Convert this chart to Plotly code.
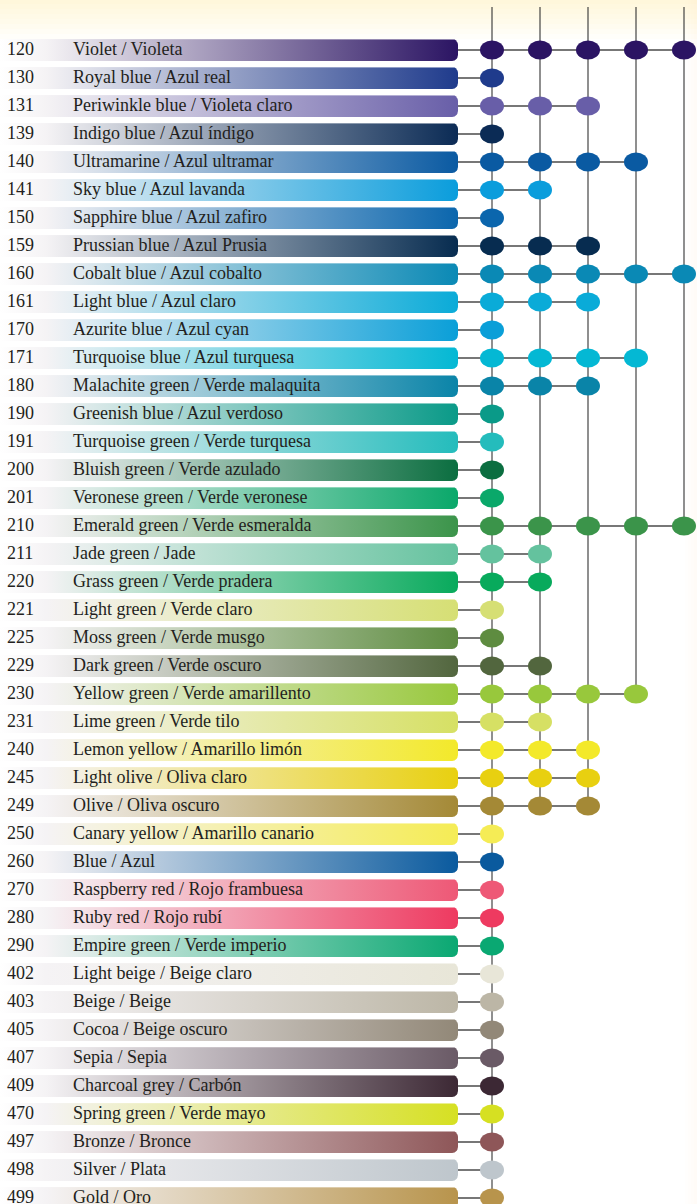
import numpy as np
import plotly.graph_objects as go

# ---------------- data ----------------
codes = ["120", "130", "131", "139", "140", "141", "150", "159", "160", "161",
         "170", "171", "180", "190", "191", "200", "201", "210", "211", "220",
         "221", "225", "229", "230", "231", "240", "245", "249", "250", "260",
         "270", "280", "290", "402", "403", "405", "407", "409", "470", "497",
         "498", "499"]

labels = ["Violet / Violeta", "Royal blue / Azul real", "Periwinkle blue / Violeta claro",
          "Indigo blue / Azul índigo", "Ultramarine / Azul ultramar", "Sky blue / Azul lavanda",
          "Sapphire blue / Azul zafiro", "Prussian blue / Azul Prusia", "Cobalt blue / Azul cobalto",
          "Light blue / Azul claro", "Azurite blue / Azul cyan", "Turquoise blue / Azul turquesa",
          "Malachite green / Verde malaquita", "Greenish blue / Azul verdoso",
          "Turquoise green / Verde turquesa", "Bluish green / Verde azulado",
          "Veronese green / Verde veronese", "Emerald green / Verde esmeralda",
          "Jade green / Jade", "Grass green / Verde pradera", "Light green / Verde claro",
          "Moss green / Verde musgo", "Dark green / Verde oscuro", "Yellow green / Verde amarillento",
          "Lime green / Verde tilo", "Lemon yellow / Amarillo limón", "Light olive / Oliva claro",
          "Olive / Oliva oscuro", "Canary yellow / Amarillo canario", "Blue / Azul",
          "Raspberry red / Rojo frambuesa", "Ruby red / Rojo rubí", "Empire green / Verde imperio",
          "Light beige / Beige claro", "Beige / Beige", "Cocoa / Beige oscuro", "Sepia / Sepia",
          "Charcoal grey / Carbón", "Spring green / Verde mayo", "Bronze / Bronce",
          "Silver / Plata", "Gold / Oro"]

swatch_colors = ["#2b1463", "#1f3b8c", "#685ea8", "#0b2b55", "#0a5aa2", "#0a9ddc",
                 "#0b66ad", "#072c50", "#0a89b5", "#0aabd8", "#0a9fd8", "#04b8d4",
                 "#0a84a8", "#0a9a88", "#24bcbc", "#0b6e40", "#0aa86a", "#3b944a",
                 "#64c29e", "#08aa5c", "#d6df74", "#5e8c40", "#52663e", "#98c83c",
                 "#d6e064", "#f3e92a", "#e8d010", "#a48936", "#f5ec55", "#0a5a9e",
                 "#ee5876", "#ee3a60", "#0aa872", "#e8e6d8", "#bcb6a6", "#928878",
                 "#6a5a66", "#3c2834", "#d6e022", "#8e5658", "#bec6cc", "#b8944c"]

# number of formats (dots) available for each colour
format_counts = [5, 1, 3, 1, 4, 2, 1, 3, 5, 3, 1, 4, 3, 1, 1, 1, 1, 5, 2, 2, 1, 1, 2, 4,
                 2, 3, 3, 3, 1, 1, 1, 1, 1, 1, 1, 1, 1, 1, 1, 1, 1, 1]

# ---------------- layout constants (pixels) ----------------
W, H = 697, 1204
ROW0 = 50.0          # pixel y of first row centre
ROWH = 28.0          # pixel spacing of rows
BAR_RIGHT = 458.0
BAR_HALF = 11.0
BAR_R = 6.0
DOT_X0 = 492.0
DOT_STEP = 48.0
DOT_RX = 12.0
DOT_RY = 9.5
LINE_TOP = 7.0
TEXT_FONT = "Liberation Serif"
TEXT_SIZE = 18
TEXT_COLOR = "#231f20"

n = len(codes)
rows = np.arange(n)
px = 1.0 / ROWH  # one pixel in row units

fig = go.Figure()

# background fade at the top
for k in range(8):
    h = 4 + 5 * k
    fig.add_shape(type="rect", xref="paper", yref="paper", x0=0, x1=1,
                  y0=1 - h / H, y1=1, fillcolor="rgba(250,232,165,0.05)",
                  line_width=0, layer="below")
for k in range(4):
    w = 3 + 3 * k
    fig.add_shape(type="rect", xref="paper", yref="paper", x0=1 - w / W, x1=1,
                  y0=0, y1=1, fillcolor="rgba(248,235,190,0.03)",
                  line_width=0, layer="below")

# gradient bars with rounded right end
t = np.linspace(0, np.pi / 2, 8)
hh = BAR_HALF * px
ry = BAR_R * px
for i, col in zip(rows, swatch_colors):
    cx = BAR_RIGHT - BAR_R
    xs = [0.0, cx]
    ys = [i - hh, i - hh]
    xs += list(cx + BAR_R * np.sin(t))
    ys += list((i - hh + ry) - ry * np.cos(t))
    xs += list(cx + BAR_R * np.cos(t))
    ys += list((i + hh - ry) + ry * np.sin(t))
    xs += [0.0, 0.0]
    ys += [i + hh, i - hh]
    fig.add_trace(go.Scatter(
        x=xs, y=ys, mode="lines", fill="toself", line=dict(width=0),
        fillgradient=dict(type="horizontal",
                          colorscale=[[0, "#ffffff"], [0.1, "#f5f3f5"], [1, col]]),
        hoverinfo="skip", showlegend=False))

# horizontal connectors
cx_, cy_ = [], []
for i, c in zip(rows, format_counts):
    cx_ += [BAR_RIGHT, DOT_X0 + DOT_STEP * (c - 1), None]
    cy_ += [i, i, None]
fig.add_trace(go.Scatter(x=cx_, y=cy_, mode="lines",
                         line=dict(color="#4a4a4a", width=1.5),
                         hoverinfo="skip", showlegend=False))

# vertical lines
vx, vy = [], []
ytop = (LINE_TOP - ROW0) / ROWH
for k in range(max(format_counts)):
    last = max(i for i, c in zip(rows, format_counts) if c > k)
    x = DOT_X0 + DOT_STEP * k
    vx += [x, x, None]
    vy += [ytop, last, None]
fig.add_trace(go.Scatter(x=vx, y=vy, mode="lines",
                         line=dict(color="#333333", width=1.1),
                         hoverinfo="skip", showlegend=False))

# dots
for i, c, col in zip(rows, format_counts, swatch_colors):
    for k in range(c):
        x = DOT_X0 + DOT_STEP * k
        fig.add_shape(type="circle", xref="x", yref="y",
                      x0=x - DOT_RX, x1=x + DOT_RX,
                      y0=i - DOT_RY * px, y1=i + DOT_RY * px,
                      fillcolor=col, line_width=0, layer="above")

# texts
fig.add_trace(go.Scatter(x=[7] * n, y=rows, mode="text", text=codes,
                         textposition="middle right",
                         textfont=dict(family=TEXT_FONT, size=TEXT_SIZE, color=TEXT_COLOR),
                         hoverinfo="skip", showlegend=False))
fig.add_trace(go.Scatter(x=[73] * n, y=rows, mode="text", text=labels,
                         textposition="middle right",
                         textfont=dict(family=TEXT_FONT, size=TEXT_SIZE, color=TEXT_COLOR),
                         hoverinfo="skip", showlegend=False))

fig.update_layout(
    width=W, height=H, margin=dict(l=0, r=0, t=0, b=0),
    paper_bgcolor="#ffffff", plot_bgcolor="rgba(0,0,0,0)",
    xaxis=dict(range=[0, W], visible=False, fixedrange=True),
    yaxis=dict(range=[(H - ROW0) / ROWH, -ROW0 / ROWH], visible=False, fixedrange=True),
    showlegend=False,
)

fig.write_html("out.html", config={"displayModeBar": False},
               post_script="document.body.style.margin='0';")
